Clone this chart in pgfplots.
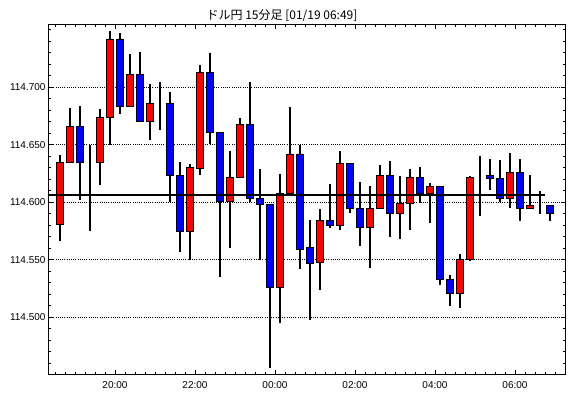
\documentclass[border=0pt]{standalone}
\usepackage{pgfplots}
\usepackage{pgfplotstable}
\pgfplotsset{compat=1.18}
\usepackage{fontspec}
\setmainfont{Liberation Sans}
\newfontfamily\jp{Noto Sans CJK JP}

\definecolor{cred}{RGB}{255,0,0}
\definecolor{cblue}{RGB}{0,0,255}

\pgfplotstableread{
k o h l c
0 114.581 114.641 114.566 114.635
1 114.635 114.682 114.634 114.666
2 114.666 114.684 114.602 114.635
3 114.635 114.650 114.575 114.635
4 114.635 114.681 114.615 114.674
5 114.674 114.749 114.650 114.742
6 114.742 114.747 114.677 114.683
7 114.683 114.729 114.683 114.711
8 114.711 114.731 114.670 114.670
9 114.670 114.703 114.654 114.686
10 114.686 114.705 114.663 114.686
11 114.686 114.696 114.600 114.623
12 114.623 114.635 114.557 114.575
13 114.575 114.633 114.550 114.630
14 114.629 114.719 114.624 114.713
15 114.713 114.730 114.651 114.661
16 114.661 114.661 114.535 114.601
17 114.601 114.645 114.560 114.622
18 114.622 114.673 114.621 114.668
19 114.668 114.705 114.600 114.603
20 114.603 114.629 114.550 114.598
21 114.598 114.598 114.456 114.526
22 114.526 114.625 114.495 114.608
23 114.608 114.683 114.606 114.642
24 114.642 114.650 114.542 114.559
25 114.561 114.585 114.498 114.547
26 114.548 114.594 114.524 114.584
27 114.584 114.616 114.578 114.580
28 114.580 114.645 114.576 114.634
29 114.634 114.634 114.591 114.595
30 114.595 114.618 114.562 114.578
31 114.578 114.614 114.543 114.595
32 114.595 114.632 114.595 114.623
33 114.623 114.636 114.570 114.590
34 114.590 114.623 114.568 114.599
35 114.599 114.629 114.576 114.622
36 114.622 114.631 114.599 114.608
37 114.608 114.617 114.582 114.614
38 114.614 114.614 114.528 114.533
39 114.533 114.537 114.510 114.521
40 114.521 114.555 114.508 114.550
41 114.550 114.623 114.549 114.622
42 114.623 114.640 114.588 114.623
43 114.623 114.638 114.611 114.621
44 114.621 114.637 114.600 114.603
45 114.603 114.643 114.595 114.626
46 114.626 114.638 114.584 114.595
47 114.595 114.624 114.594 114.597
48 114.597 114.610 114.590 114.597
49 114.597 114.597 114.584 114.590
}\candles

\pgfplotstableread{
x y
-1.1 114.6063
48.5 114.6063
}\lastline

\pgfplotsset{
  candleaxis/.style={
    scale only axis,
    width=516.3pt, height=350pt,
    xmin=-1.1, xmax=50.53,
    ymin=114.4501, ymax=114.7544,
  }
}

\begin{document}
\begin{tikzpicture}
\path[use as bounding box] (-49pt,-23.3pt) rectangle (521pt,374.7pt);

% main axis: frame, ticks, grid, wicks
\begin{axis}[
  candleaxis,
  axis line style={black, line width=1pt},
  tick align=inside,
  tick style={black, line width=0.9pt},
  major tick length=4.5pt,
  minor tick length=2.5pt,
  xtick={5.5,13.5,21.5,29.5,37.5,45.5},
  xticklabels={20:00,22:00,00:00,02:00,04:00,06:00},
  minor xtick={-0.5,0.5,...,49.5},
  ytick={114.5,114.55,114.6,114.65,114.7},
  minor ytick={114.46,114.47,114.48,114.49,114.51,114.52,114.53,114.54,114.56,114.57,114.58,114.59,114.61,114.62,114.63,114.64,114.66,114.67,114.68,114.69,114.71,114.72,114.73,114.74,114.75},
  scaled y ticks=false,
  yticklabel style={/pgf/number format/.cd, fixed, fixed zerofill, precision=3, assume math mode=true},
  xticklabel style={yshift=-3.5pt},
  tick label style={font=\fontsize{10}{12}\selectfont, black},
  ymajorgrids,
  major grid style={black, line width=0.9pt, dash pattern=on 1pt off 1.2pt},
]
\addplot[draw=none, mark=none, forget plot,
  error bars/.cd, y dir=plus, y explicit, error mark=none,
  error bar style={draw=black, line width=1.2pt}]
  table[x=k, y=l, y error plus expr=\thisrow{h}-\thisrow{l}] {\candles};
\end{axis}

% bodies
\begin{axis}[
  candleaxis, hide axis,
  ybar stacked, bar width=0.62,
]
\addplot[draw=none, fill=none] table[x=k, y expr={min(\thisrow{o},\thisrow{c})}] {\candles};
\addplot[draw=black, line width=0.9pt, fill=cred] table[x=k, y expr={max(\thisrow{c}-\thisrow{o},0)}] {\candles};
\addplot[draw=black, line width=0.9pt, fill=cblue] table[x=k, y expr={max(\thisrow{o}-\thisrow{c},0)}] {\candles};
\end{axis}

% last price line
\begin{axis}[candleaxis, hide axis]
\addplot[black, line width=1.2pt] table[x=x, y=y] {\lastline};
\end{axis}

\node[font=\jp\fontsize{12}{14}\selectfont] at (233pt,359pt) {ドル円 15分足 [01/19 06:49]};
\end{tikzpicture}
\end{document}
